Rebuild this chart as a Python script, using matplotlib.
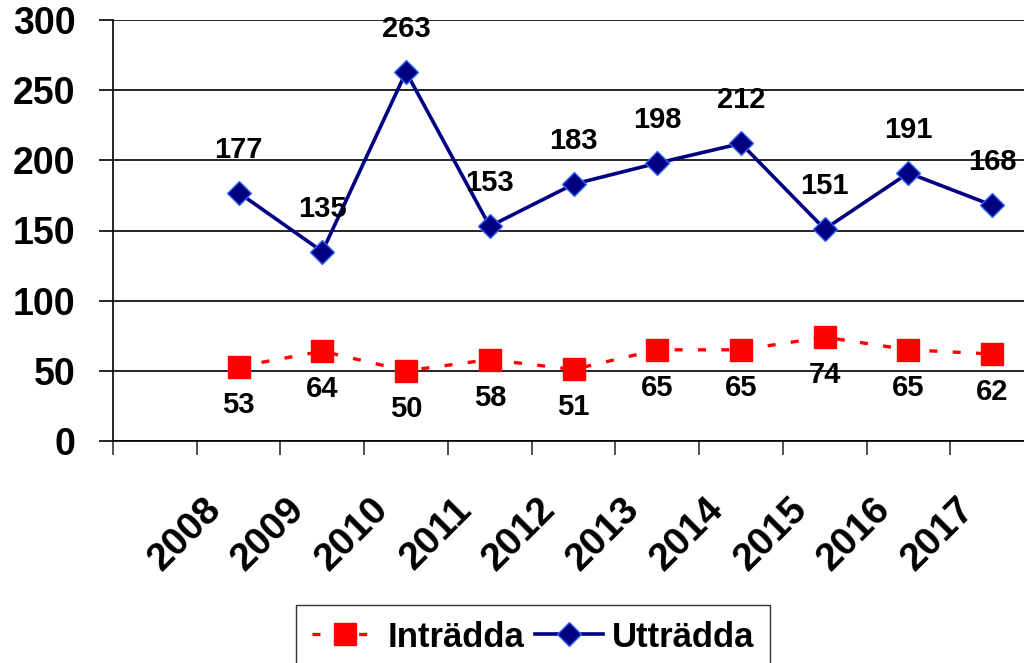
import numpy as np
import matplotlib.pyplot as plt
from matplotlib.ticker import FixedLocator, NullFormatter

plt.rcParams['font.family'] = ['Liberation Sans', 'DejaVu Sans']
plt.rcParams['font.weight'] = 'bold'

# data ---------------------------
years = ['2008', '2009', '2010', '2011', '2012', '2013', '2014', '2015', '2016', '2017']
intradda = [53, 64, 50, 58, 51, 65, 65, 74, 65, 62]
uttradda = [177, 135, 263, 153, 183, 198, 212, 151, 191, 168]
# --------------------------------

xpos = np.arange(1, len(intradda) + 1)

fig = plt.figure(figsize=(10.24, 6.63), dpi=100)
ax = fig.add_axes([113 / 1024, 1 - 441 / 663, 921 / 1024, 421 / 663])

l1, = ax.plot(xpos, intradda, color='#FF0000', lw=2.4, ls=(0, (2.4, 4.6)),
              marker='s', ms=16, mfc='#FF0000', mec='#FF0000', label='Inträdda')
l2, = ax.plot(xpos, uttradda, color='#000080', lw=2.6, ls='-',
              marker='D', ms=12, mfc='#000080', mec='#3366FF', mew=1, label='Utträdda')

for x, v in zip(xpos, intradda):
    ax.annotate(str(v), (x, v), xytext=(0, -38), textcoords='offset pixels',
                ha='center', va='center', fontsize=21, fontweight='bold')
for x, v in zip(xpos, uttradda):
    ax.annotate(str(v), (x, v), xytext=(0, 43), textcoords='offset pixels',
                ha='center', va='center', fontsize=21, fontweight='bold')

ax.set_xlim(-0.5, 10.5)
ax.set_ylim(0, 300)
ax.set_yticks(np.arange(0, 301, 50))
ax.grid(axis='y', color='black', lw=1.2)
ax.set_axisbelow(True)

# ticks at category boundaries, year labels placed under the points
ax.xaxis.set_major_locator(FixedLocator(np.arange(-0.5, 10.6, 1)))
ax.xaxis.set_major_formatter(NullFormatter())
ax.tick_params(axis='x', which='major', length=10, width=1.2, color='#333333')
for x, yr in zip(xpos, years):
    ax.annotate(yr, (x, 0), xycoords=('data', 'axes fraction'),
                xytext=(-36, -50), textcoords='offset pixels',
                ha='right', va='top', rotation=45, rotation_mode='anchor',
                fontsize=28, fontweight='bold')
ax.tick_params(axis='y', length=10, width=1.2, labelsize=27, pad=17)
for lab in ax.get_yticklabels():
    lab.set_fontweight('bold')

for s in ['top', 'right']:
    ax.spines[s].set_visible(False)
ax.spines['left'].set_linewidth(1.2)
ax.spines['bottom'].set_linewidth(1.2)

leg = fig.legend(handles=[l1, l2], loc='upper left', bbox_to_anchor=(296 / 1024, 1 - 605 / 663),
                 ncol=2, frameon=True, fancybox=False, edgecolor='black',
                 prop={'size': 25, 'weight': 'bold'},
                 handlelength=1.95, handletextpad=0.25,
                 columnspacing=0.3, borderpad=0.45, borderaxespad=0)
leg.get_frame().set_linewidth(1.0)

fig.savefig('out.png', dpi=100)
